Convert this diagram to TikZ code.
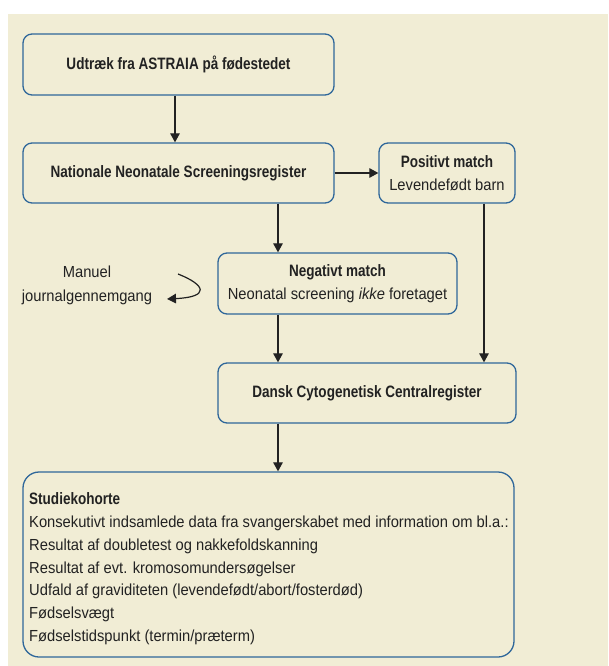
\documentclass[tikz,border=0pt]{standalone}
\usepackage{fontspec}
\setmainfont[FakeStretch=0.92]{Liberation Sans}
\newfontfamily\tfont[FakeStretch=0.82]{Liberation Sans}
\usetikzlibrary{arrows.meta}
\definecolor{bgc}{HTML}{F1EDD5}
\definecolor{bluec}{HTML}{2F679A}
\definecolor{txtc}{HTML}{222222}
\newcommand{\ttl}[1]{{\tfont\fontsize{16.5}{23.5}\selectfont\bfseries #1}}
\begin{document}
\begin{tikzpicture}[x=1pt,y=-1pt,
  box/.style={draw=bluec, line width=1.3pt, fill=bgc, rounded corners=9pt, inner sep=0pt, text=txtc, align=center, font=\fontsize{16}{23.5}\selectfont},
  arr/.style={draw=txtc, line width=1.2pt, -{Triangle[length=9pt,width=9.5pt]}},
  lbl/.style={text=txtc, align=center, font=\fontsize{16}{24}\selectfont}
]
\useasboundingbox (0,0) rectangle (608,666);
\fill[bgc] (8,14) rectangle (608,666);

\node[box, minimum width=311pt, minimum height=61pt] (b1) at (178.5,64.5) {\ttl{Udtræk fra ASTRAIA på fødestedet}};
\node[box, minimum width=311pt, minimum height=60pt] (b2) at (178.5,173) {\ttl{Nationale Neonatale Screeningsregister}};
\node[box, minimum width=136pt, minimum height=60pt] (pos) at (447,173) {\ttl{Positivt match}\\Levendefødt barn};
\node[box, minimum width=239pt, minimum height=61pt] (neg) at (337.5,283.5) {\ttl{Negativt match}\\Neonatal screening \textit{ikke} foretaget};
\node[box, minimum width=298pt, minimum height=60pt] (dcc) at (367,393) {\ttl{Dansk Cytogenetisk Centralregister}};
\node[box, rounded corners=16pt, minimum width=491pt, minimum height=185pt] (stu) at (268.5,564.5) {};
\node[anchor=north west, text=txtc, align=left, inner sep=0pt, font=\fontsize{16}{22.95}\selectfont] (stutext) at (29,492) {\ttl{Studiekohorte}\\
Konsekutivt indsamlede data fra svangerskabet med information om bl.a.:\\
Resultat af doubletest og nakkefoldskanning\\
Resultat af evt. kromosomundersøgelser\\
Udfald af graviditeten (levendefødt/abort/fosterdød)\\
Fødselsvægt\\
Fødselstidspunkt (termin/præterm)};

\node[lbl] (man) at (87,285) {Manuel\\journalgennemgang};

\coordinate (colA) at (278,0);
\coordinate (colB) at (484,0);
\coordinate (cs) at (178,274);
\coordinate (ce) at (167,299);

\draw[arr] (b1.south -| 175,0) -- (b2.north -| 175,0);
\draw[arr] (b2.east) -- (pos.west);
\draw[arr] (b2.south -| colA) -- (neg.north -| colA);
\draw[arr] (neg.south -| colA) -- (dcc.north -| colA);
\draw[arr] (pos.south -| colB) -- (dcc.north -| colB);
\draw[arr] (dcc.south -| colA) -- (stu.north -| colA);
\draw[arr] (cs) .. controls (206,285) and (210,297) .. (ce);
\end{tikzpicture}
\end{document}
